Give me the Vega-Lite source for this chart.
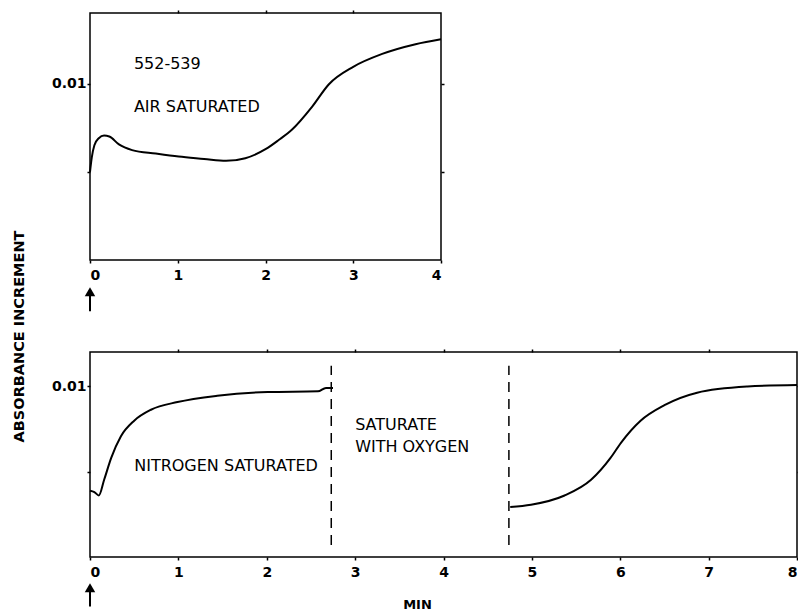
{
  "$schema": "https://vega.github.io/schema/vega-lite/v6.json",
  "background": "white",
  "padding": {"left": 10, "top": 8, "right": 0, "bottom": 2},
  "datasets": {
    "top": [
      {"t": 0, "a": 0.0050}, {"t": 0.02, "a": 0.0058}, {"t": 0.05, "a": 0.0065}, {"t": 0.1, "a": 0.0069},
      {"t": 0.16, "a": 0.00705}, {"t": 0.22, "a": 0.0070}, {"t": 0.33, "a": 0.00655}, {"t": 0.48, "a": 0.00623},
      {"t": 0.75, "a": 0.00603}, {"t": 1.01, "a": 0.00586}, {"t": 1.3, "a": 0.00573}, {"t": 1.55, "a": 0.00562},
      {"t": 1.77, "a": 0.00577}, {"t": 2.0, "a": 0.00628}, {"t": 2.15, "a": 0.0068}, {"t": 2.3, "a": 0.00738},
      {"t": 2.53, "a": 0.00868}, {"t": 2.72, "a": 0.00995}, {"t": 3.0, "a": 0.01095}, {"t": 3.33, "a": 0.01168},
      {"t": 3.71, "a": 0.01223}, {"t": 4.0, "a": 0.01251}
    ],
    "bottom": [
      {"s": "n2", "t": 0, "a": 0.00388}, {"s": "n2", "t": 0.05, "a": 0.0038}, {"s": "n2", "t": 0.1, "a": 0.0036},
      {"s": "n2", "t": 0.16, "a": 0.00452}, {"s": "n2", "t": 0.24, "a": 0.0058}, {"s": "n2", "t": 0.35, "a": 0.00707},
      {"s": "n2", "t": 0.5, "a": 0.00798}, {"s": "n2", "t": 0.69, "a": 0.00862}, {"s": "n2", "t": 0.99, "a": 0.00907},
      {"s": "n2", "t": 1.44, "a": 0.00944}, {"s": "n2", "t": 2.01, "a": 0.00966}, {"s": "n2", "t": 2.58, "a": 0.0097},
      {"s": "n2", "t": 2.67, "a": 0.0099}, {"s": "n2", "t": 2.75, "a": 0.0099},
      {"s": "o2", "t": 4.755, "a": 0.00293}, {"s": "o2", "t": 4.99, "a": 0.00306}, {"s": "o2", "t": 5.37, "a": 0.0036},
      {"s": "o2", "t": 5.67, "a": 0.00452}, {"s": "o2", "t": 5.89, "a": 0.0058}, {"s": "o2", "t": 6.01, "a": 0.0067},
      {"s": "o2", "t": 6.23, "a": 0.00798}, {"s": "o2", "t": 6.5, "a": 0.00889}, {"s": "o2", "t": 6.87, "a": 0.00962},
      {"s": "o2", "t": 7.44, "a": 0.00998}, {"s": "o2", "t": 8.0, "a": 0.01007}
    ],
    "dashes": [
      {"t": 2.73, "y1": 0.0007, "y2": 0.0112},
      {"t": 4.74, "y1": 0.0007, "y2": 0.0112}
    ],
    "topLabels": [
      {"t": 0.5, "a": 0.0111, "label": "552-539"},
      {"t": 0.5, "a": 0.00865, "label": "AIR SATURATED"}
    ],
    "bottomLabels": [
      {"t": 0.5, "a": 0.00535, "label": "NITROGEN SATURATED"},
      {"t": 3.0, "a": 0.0077, "label": "SATURATE"},
      {"t": 3.0, "a": 0.00645, "label": "WITH OXYGEN"}
    ],
    "arrow": [
      {"t": 0, "head": -0.0018, "tail": -0.0029}
    ]
  },
  "vconcat": [
    {
      "width": 351,
      "height": 247,
      "layer": [
        {
          "data": {"name": "top"},
          "mark": {"type": "line", "color": "black", "strokeWidth": 2, "interpolate": "monotone"},
          "encoding": {
            "x": {"field": "t", "type": "quantitative", "scale": {"domain": [0, 4]},
                  "axis": {"values": [0, 1, 2, 3, 4], "title": null, "format": "d"}},
            "y": {"field": "a", "type": "quantitative", "scale": {"domain": [0, 0.0137]},
                  "axis": {"values": [0.005, 0.01], "labelExpr": "datum.value == 0.01 ? '0.01' : ''", "title": null, "labelPadding": 1}}
          }
        },
        {
          "data": {"name": "top"},
          "mark": {"type": "line", "opacity": 0},
          "encoding": {
            "x": {"field": "t", "type": "quantitative", "axis": {"orient": "top", "values": [1, 2, 3], "labels": false, "title": null}},
            "y": {"field": "a", "type": "quantitative", "axis": {"orient": "right", "values": [0.005, 0.01], "labels": false, "title": null}}
          }
        },
        {
          "data": {"name": "topLabels"},
          "mark": {"type": "text", "align": "left", "baseline": "middle", "fontSize": 16, "font": "DejaVu Sans", "color": "black"},
          "encoding": {
            "x": {"field": "t", "type": "quantitative", "axis": null},
            "y": {"field": "a", "type": "quantitative", "axis": null},
            "text": {"field": "label"}
          }
        },
        {
          "data": {"name": "arrow"},
          "mark": {"type": "rule", "color": "black", "strokeWidth": 2},
          "encoding": {
            "x": {"field": "t", "type": "quantitative", "axis": null},
            "y": {"field": "head", "type": "quantitative", "axis": null},
            "y2": {"field": "tail"}
          }
        },
        {
          "data": {"name": "arrow"},
          "mark": {"type": "point", "shape": "triangle-up", "filled": true, "color": "black", "size": 110, "opacity": 1},
          "encoding": {
            "x": {"field": "t", "type": "quantitative", "axis": null},
            "y": {"field": "head", "type": "quantitative", "axis": null}
          }
        }
      ],
      "resolve": {"axis": {"x": "independent", "y": "independent"}}
    },
    {
      "width": 707,
      "height": 205,
      "layer": [
        {
          "data": {"name": "bottom"},
          "mark": {"type": "line", "color": "black", "strokeWidth": 2, "interpolate": "monotone"},
          "encoding": {
            "x": {"field": "t", "type": "quantitative", "scale": {"domain": [0, 8]},
                  "axis": {"values": [0, 1, 2, 3, 4, 5, 6, 7, 8], "format": "d", "title": "MIN",
                           "titleX": 327, "titleY": 47, "titleAlign": "center", "titleBaseline": "middle"}},
            "y": {"field": "a", "type": "quantitative", "scale": {"domain": [0, 0.0112]},
                  "axis": {"values": [0.005, 0.01], "labelExpr": "datum.value == 0.01 ? '0.01' : ''", "labelPadding": 1,
                           "title": "ABSORBANCE INCREMENT", "titleX": -71, "titleY": -16, "titleAngle": -90,
                           "titleAlign": "center", "titleBaseline": "middle", "titleFontSize": 14.5}},
            "detail": {"field": "s", "type": "nominal"}
          }
        },
        {
          "data": {"name": "bottom"},
          "mark": {"type": "line", "opacity": 0},
          "encoding": {
            "x": {"field": "t", "type": "quantitative", "axis": {"orient": "top", "values": [1, 2, 3, 4, 5, 6, 7], "labels": false, "title": null}},
            "y": {"field": "a", "type": "quantitative", "axis": {"orient": "right", "values": [0.005, 0.01], "labels": false, "title": null}},
            "detail": {"field": "s", "type": "nominal"}
          }
        },
        {
          "data": {"name": "dashes"},
          "mark": {"type": "rule", "color": "black", "strokeWidth": 1.5, "strokeDash": [10, 7]},
          "encoding": {
            "x": {"field": "t", "type": "quantitative", "axis": null},
            "y": {"field": "y1", "type": "quantitative", "axis": null},
            "y2": {"field": "y2"}
          }
        },
        {
          "data": {"name": "bottomLabels"},
          "mark": {"type": "text", "align": "left", "baseline": "middle", "fontSize": 16, "font": "DejaVu Sans", "color": "black"},
          "encoding": {
            "x": {"field": "t", "type": "quantitative", "axis": null},
            "y": {"field": "a", "type": "quantitative", "axis": null},
            "text": {"field": "label"}
          }
        },
        {
          "data": {"name": "arrow"},
          "mark": {"type": "rule", "color": "black", "strokeWidth": 2},
          "encoding": {
            "x": {"field": "t", "type": "quantitative", "axis": null},
            "y": {"field": "head", "type": "quantitative", "axis": null},
            "y2": {"field": "tail"}
          }
        },
        {
          "data": {"name": "arrow"},
          "mark": {"type": "point", "shape": "triangle-up", "filled": true, "color": "black", "size": 110, "opacity": 1},
          "encoding": {
            "x": {"field": "t", "type": "quantitative", "axis": null},
            "y": {"field": "head", "type": "quantitative", "axis": null}
          }
        }
      ],
      "resolve": {"axis": {"x": "independent", "y": "independent"}}
    }
  ],
  "spacing": 92,
  "bounds": "flush",
  "config": {
    "font": "DejaVu Sans",
    "view": {"stroke": "black", "strokeWidth": 1.5},
    "axis": {
      "domain": false,
      "grid": false,
      "ticks": true,
      "tickColor": "black",
      "tickSize": 3,
      "tickWidth": 1.5,
      "labelFont": "DejaVu Sans",
      "labelFontSize": 14,
      "labelFontWeight": "bold",
      "labelColor": "black",
      "labelPadding": 5,
      "titleFont": "DejaVu Sans",
      "titleFontSize": 13,
      "titleFontWeight": "bold",
      "titleColor": "black"
    }
  }
}
